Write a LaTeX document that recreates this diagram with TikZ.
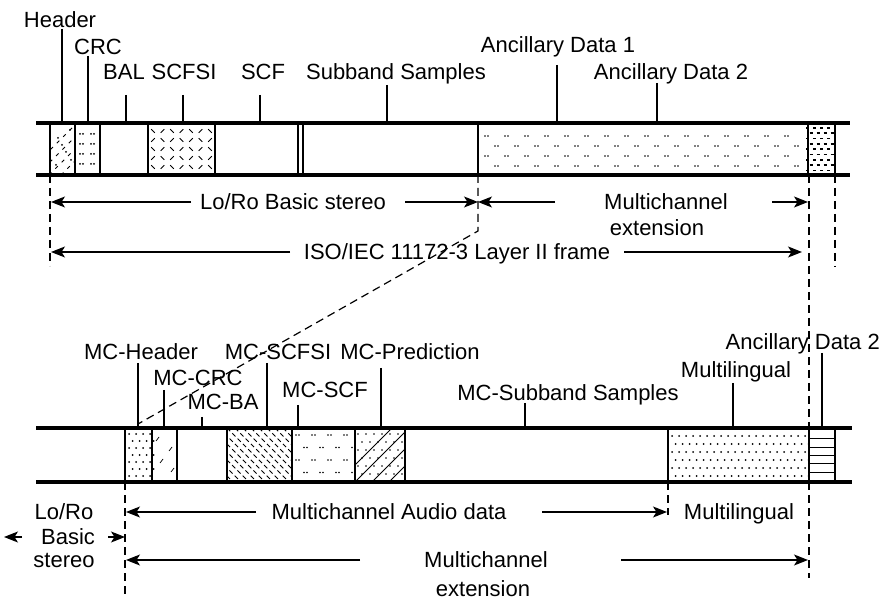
\documentclass[tikz,border=0pt]{standalone}
\usepackage{fontspec}
\setmainfont{Liberation Sans}
\usetikzlibrary{arrows.meta}
\begin{document}
\begin{tikzpicture}[x=1pt,y=-1pt,
  lbl/.style={font=\fontsize{22}{26}\selectfont, inner sep=0pt, text height=15.7pt, text depth=0pt},
  bar/.style={line width=4.8pt},
  edge/.style={line width=1.4pt},
  tick/.style={line width=1.2pt},
  dsh/.style={line width=1.2pt, dash pattern=on 8pt off 5pt},
  arr/.style={line width=1.2pt, -{Stealth[length=14pt,width=11pt,inset=3.5pt]}},
  pat/.style={line width=1pt},
]
\useasboundingbox (0,0) rectangle (881,601);

% ===== top frame patterns =====
% Header
\begin{scope}
\clip (50,125) rectangle (75,173);
\foreach \k in {0,...,5} \draw[pat, dash pattern=on 3.5pt off 5.5pt] (25+\k*12,175) -- ++(55,-55);
\foreach \p in {(58,138),(66,152),(56,165),(70,130),(71,160),(62,145)} \fill \p circle (1pt);
\end{scope}
% CRC
\foreach \r in {0,...,3} \foreach \c in {0,1} {
  \pgfmathsetmacro\xx{80+\c*11}
  \fill (\xx,134+\r*10) circle (1pt) (\xx+3,134+\r*10) circle (1pt);
}
% SCFSI
\foreach \r in {0,...,4} \foreach \c in {0,...,6} {
  \pgfmathsetmacro\xx{153+\c*9.5}
  \pgfmathsetmacro\yy{131+\r*9}
  \pgfmathtruncatemacro\odd{mod(\c+\r,2)}
  \ifnum\odd=1
    \draw[pat] (\xx-1.8,\yy+1.8) -- (\xx+1.8,\yy-1.8);
  \else
    \draw[pat] (\xx-1.8,\yy-1.8) -- (\xx+1.8,\yy+1.8);
  \fi
}
% Ancillary data 1
\foreach \r in {0,...,3} \foreach \c in {0,...,15} {
  \pgfmathsetmacro\xx{485+\c*20+mod(\r,2)*10}
  \fill (\xx,136+\r*10) circle (0.9pt) (\xx+3,136+\r*10) circle (0.9pt);
}
% Ancillary data 2
\begin{scope}
\clip (805,125) rectangle (835,173);
\foreach \r in {0,...,8} \foreach \c in {0,...,4} {
  \pgfmathsetmacro\xx{806+\c*7+mod(\r,2)*3.5}
  \draw[line width=1.6pt] (\xx,128+\r*5.3) -- ++(3.4,0);
}
\end{scope}

% ===== top frame =====
\draw[bar] (36,123) -- (850,123);
\draw[bar] (36,175) -- (850,175);
\foreach \x in {50,75,100,148,215,298,303,478,808,835} \draw[edge] (\x,123) -- (\x,175);

% labels top
\node[lbl] (hdr) at (60,20) {Header};
\node[lbl] (crc) at (98,47) {CRC};
\node[lbl] (bal) at (124,72) {BAL};
\node[lbl] (scfsi) at (184,72) {SCFSI};
\node[lbl] (scf) at (263,72) {SCF};
\node[lbl] (sbs) at (396,72) {Subband Samples};
\node[lbl] (anc1) at (558,45) {Ancillary Data 1};
\node[lbl] (anc2) at (671,72) {Ancillary Data 2};
\draw[tick] (62,29) -- (62,123);
\draw[tick] (88,56) -- (88,123);
\draw[tick] (126,95) -- (126,123);
\draw[tick] (183,95) -- (183,123);
\draw[tick] (260,95) -- (260,123);
\draw[tick] (387,85) -- (387,123);
\draw[tick] (557,65) -- (557,123);
\draw[tick] (657,83) -- (657,123);

% dashed lines top
\draw[dsh] (50,175) -- (50,266);
\draw[dsh] (478,175) -- (478,231) -- (138,424);
\draw[dsh] (809,175) -- (809,428);
\draw[dsh] (835,175) -- (835,267);

% arrows top
\node[lbl] (loro) at (293,202) {Lo/Ro Basic stereo};
\draw[arr] (191,202) -- (51,202);
\draw[arr] (405,202) -- (478,202);
\draw[arr] (555,202) -- (478,202);
\node[lbl] (mce1) at (666,202) {Multichannel};
\node[lbl] (mce2) at (657,228) {extension};
\draw[arr] (772,202) -- (808,202);
\node[lbl] (iso) at (457,252) {ISO/IEC 11172-3 Layer II frame};
\draw[arr] (290,252) -- (51,252);
\draw[arr] (624,252) -- (802,252);

% ===== lower frame patterns =====
% MC-Header dots
\foreach \r in {0,...,6} \foreach \c in {0,...,3} {
  \pgfmathsetmacro\xx{129+\c*7+mod(\r,2)*3.5}
  \fill (\xx,434+\r*7) circle (1pt);
}
% MC-CRC faint slashes
\draw[line width=0.7pt] (156,441) -- (159,437) (169,451) -- (172,447) (160,463) -- (163,459) (171,472) -- (174,468);
% MC-SCFSI
\begin{scope}
\clip (227,430) rectangle (292,480);
\foreach \k in {-8,...,9} \draw[pat, dash pattern=on 4.5pt off 3pt] (227+\k*8,428) -- ++(55,55);
\end{scope}
% MC-SCF
\foreach \r in {0,...,3} \foreach \c in {0,...,3} {
  \pgfmathsetmacro\xx{296+\c*16+mod(\r,2)*8}
  \fill (\xx,435+\r*12.5) circle (0.9pt) (\xx+3,435+\r*12.5) circle (0.9pt);
}
% MC-Prediction
\begin{scope}
\clip (355,430) rectangle (405,480);
\foreach \k in {0,...,5} \draw[pat] (338+\k*17,482) -- ++(55,-55);
\foreach \r in {0,...,5} \foreach \c in {0,...,6} {
  \pgfmathsetmacro\xx{358+\c*8+mod(\r,2)*4}
  \fill (\xx,434+\r*8) circle (0.9pt);
}
\end{scope}
% Multilingual
\foreach \r in {0,...,5} \foreach \c in {0,...,19} {
  \pgfmathsetmacro\xx{672+\c*7+mod(\r,2)*3.5}
  \fill (\xx,436+\r*8) circle (1pt);
}
% Ancillary data 2 (lower)
\foreach \yy in {438,447,455,463,472} \draw[line width=0.9pt] (809,\yy) -- (835,\yy);

% ===== lower frame =====
\draw[bar] (36,428) -- (852,428);
\draw[bar] (36,482) -- (852,482);
\foreach \x in {125,152,177,227,292,355,405,668,809,835} \draw[edge] (\x,428) -- (\x,482);

% labels lower
\node[lbl] (mchdr) at (141,352) {MC-Header};
\node[lbl] (mccrc) at (198,378) {MC-CRC};
\node[lbl] (mcba) at (223,402) {MC-BA};
\node[lbl] (mcscfsi) at (278,352) {MC-SCFSI};
\node[lbl] (mcscf) at (325,390) {MC-SCF};
\node[lbl] (mcpred) at (410,352) {MC-Prediction};
\node[lbl] (mcsbs) at (568,393) {MC-Subband Samples};
\node[lbl] (ml) at (736,370) {Multilingual};
\node[lbl, anchor=east] (anc2b) at (880,342) {Ancillary Data 2};
\draw[tick] (138,363) -- (138,428);
\draw[tick] (164,390) -- (164,428);
\draw[tick] (202,417) -- (202,428);
\draw[tick] (267,363) -- (267,428);
\draw[tick] (298,405) -- (298,428);
\draw[tick] (381,368) -- (381,428);
\draw[tick] (525,403) -- (525,428);
\draw[tick] (733,383) -- (733,428);
\draw[tick] (822,353) -- (822,428);

% dashed lines lower
\draw[dsh] (125,482) -- (125,595);
\draw[dsh] (668,482) -- (668,515);
\draw[dsh] (809,482) -- (809,578);

% arrows lower
\node[lbl] (mcad) at (389,512) {Multichannel Audio data};
\draw[arr] (256,512) -- (126,512);
\draw[arr] (542,512) -- (667,512);
\node[lbl] (ml2) at (739,512) {Multilingual};
\node[lbl] (lr1) at (64,512) {Lo/Ro};
\node[lbl] (lr2) at (68,537) {Basic};
\node[lbl] (lr3) at (64,560) {stereo};
\draw[arr] (22,537) -- (4,537);
\draw[arr] (108,537) -- (125,537);
\node[lbl] (mce3) at (486,560) {Multichannel};
\node[lbl] (mce4) at (483,589) {extension};
\draw[arr] (360,560) -- (126,560);
\draw[arr] (621,560) -- (808,560);
\end{tikzpicture}
\end{document}
